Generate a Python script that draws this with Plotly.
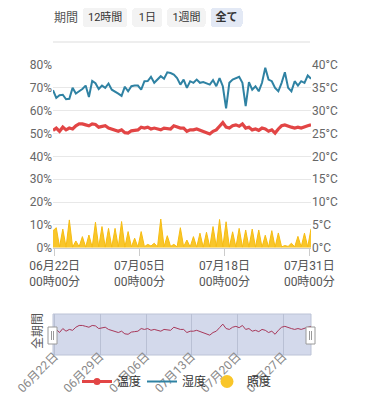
import plotly.graph_objects as go
import pandas as pd

# ---- data (12-hour samples) ----
start_time = "2023-06-21 18:00"
n_points = 80

humidity = [69.0, 65.6, 66.8, 67.0, 65.0, 65.2, 70.0, 67.5, 68.5, 69.5,
            71.0, 66.0, 73.0, 72.0, 69.5, 71.0, 70.0, 71.9, 69.2, 68.5,
            67.5, 66.5, 70.5, 68.5, 70.7, 71.0, 71.0, 69.2, 72.9, 73.0,
            74.8, 72.2, 73.6, 75.1, 74.0, 76.8, 76.5, 75.8, 74.3, 71.4,
            73.6, 70.0, 72.9, 72.2, 73.6, 72.2, 72.5, 72.0, 71.4, 73.4,
            70.7, 74.3, 70.7, 61.0, 72.2, 73.6, 74.3, 74.8, 72.2, 62.0,
            72.5, 69.2, 70.7, 68.5, 72.2, 78.8, 73.6, 72.9, 70.0, 68.5,
            72.2, 76.8, 70.0, 68.5, 72.9, 71.0, 72.9, 72.2, 75.4, 74.0]

temperature = [25.7, 26.2, 25.5, 26.4, 25.8, 26.2, 26.0, 26.7, 27.1, 27.1,
               26.9, 26.7, 27.1, 27.0, 26.4, 26.6, 26.7, 26.2, 26.0, 25.8,
               25.5, 25.8, 25.2, 25.1, 25.6, 25.7, 25.8, 26.4, 26.2, 26.4,
               26.0, 26.2, 26.0, 25.8, 26.2, 26.1, 26.0, 26.7, 26.4, 26.2,
               26.2, 25.5, 25.8, 25.8, 26.0, 25.7, 25.5, 25.1, 24.9, 25.5,
               25.8, 26.6, 27.4, 26.4, 26.2, 26.7, 26.9, 26.6, 27.1, 26.2,
               26.4, 25.8, 26.0, 25.7, 26.2, 26.0, 25.5, 25.8, 25.1, 26.0,
               26.7, 26.9, 26.6, 26.4, 26.2, 26.4, 26.2, 26.5, 26.7, 26.9]

illuminance = [7.5, 8.8, 0.4, 8.2, 0.3, 12.2, 0.3, 3.0, 0.5, 4.9,
               0.3, 5.6, 0.3, 11.2, 0.4, 9.3, 0.3, 8.5, 0.3, 8.5,
               0.4, 11.5, 0.3, 7.1, 0.4, 4.2, 0.3, 7.1, 0.5, 1.5,
               0.8, 2.0, 0.4, 12.6, 0.5, 5.3, 0.6, 1.5, 0.4, 8.8,
               0.5, 3.4, 0.4, 4.9, 0.3, 6.4, 0.3, 6.8, 0.4, 9.3,
               0.5, 12.4, 0.4, 11.4, 0.3, 7.0, 0.3, 8.5, 0.3, 7.8,
               0.3, 8.2, 0.3, 7.8, 0.3, 5.5, 0.3, 7.5, 0.3, 6.5,
               0.4, 1.0, 0.6, 2.0, 0.4, 5.0, 0.4, 6.4, 0.4, 8.3]

main_ticks = ["2023-06-22", "2023-07-05", "2023-07-18", "2023-07-31"]
main_tick_text = ["06月22日<br>00時00分", "07月05日<br>00時00分",
                  "07月18日<br>00時00分", "07月31日<br>00時00分"]
slider_tick0 = "2023-06-22"

series_names = ["温度", "湿度", "照度"]
period_label = "期間"
slider_label = "全期間"

times = pd.date_range(start_time, periods=n_points, freq="12h")

# ---- styling ----
FONT = "Roboto, 'Noto Sans CJK JP', sans-serif"
RED = "#e24545"
BLUE = "#2f82a3"
YELLOW = "#f9c62a"
OFF = 8  # page body margin
W, H = 368 - OFF, 400 - OFF


def px_x(v):
    return (v - OFF) / W


def px_y(v):
    return 1 - (v - OFF) / H


fig = go.Figure()

fig.add_trace(go.Scatter(x=times, y=illuminance, name=series_names[2], yaxis="y3",
                         mode="lines", line=dict(color="#f6bc12", width=1),
                         fill="tozeroy", fillcolor=YELLOW, showlegend=False))
fig.add_trace(go.Scatter(x=times, y=temperature, name=series_names[0], yaxis="y2",
                         mode="lines", line=dict(color=RED, width=3.2), showlegend=False))
fig.add_trace(go.Scatter(x=times, y=humidity, name=series_names[1], yaxis="y",
                         mode="lines", line=dict(color=BLUE, width=2), showlegend=False))

# slider preview (temperature)
fig.add_trace(go.Scatter(x=times, y=temperature, xaxis="x2", yaxis="y4", mode="lines",
                         line=dict(color="#a8385a", width=1), showlegend=False,
                         hoverinfo="skip"))

# legend entries
fig.add_trace(go.Scatter(x=[None], y=[None], name=series_names[0], mode="lines+markers",
                         line=dict(color=RED, width=3),
                         marker=dict(color=RED, size=7, symbol="circle")))
fig.add_trace(go.Scatter(x=[None], y=[None], name=series_names[1], mode="lines",
                         line=dict(color=BLUE, width=2)))
fig.add_trace(go.Scatter(x=[None], y=[None], name=series_names[2], mode="markers",
                         marker=dict(color=YELLOW, size=13, symbol="circle")))

dom_x = [px_x(53), px_x(311)]

fig.update_layout(
    width=W, height=H,
    margin=dict(l=0, r=0, t=0, b=0, autoexpand=False),
    paper_bgcolor="white", plot_bgcolor="white",
    font=dict(family=FONT, size=12, color="#555"),
    xaxis=dict(
        domain=dom_x, anchor="y", autorange=True, automargin=False,
        tickvals=main_ticks, ticktext=main_tick_text,
        ticks="outside", ticklen=7, tickcolor="#ccc",
        showline=True, linecolor="#ccc", showgrid=False, zeroline=False,
        tickfont=dict(size=12, color="#555"),
        rangeselector=dict(
            x=px_x(83), xanchor="left", y=px_y(8), yanchor="top",
            bgcolor="#f3f3f3", activecolor="#e3e9f5",
            font=dict(size=11, color="#333", family=FONT),
            buttons=[
                dict(count=12, label="12時間", step="hour", stepmode="backward"),
                dict(count=1, label="1日", step="day", stepmode="backward"),
                dict(count=7, label="1週間", step="day", stepmode="backward"),
                dict(step="all", label="<b>全て</b>"),
            ],
        ),
    ),
    yaxis=dict(
        domain=[px_y(247.8), px_y(65)], range=[0, 80], dtick=10, ticksuffix="%",
        gridcolor="#e8e8e8", zeroline=False, showline=False, automargin=False,
        tickfont=dict(size=12, color="#666"),
    ),
    yaxis2=dict(
        overlaying="y", side="right", anchor="x", range=[0, 40], dtick=5,
        ticksuffix="°C", showgrid=False, zeroline=False, showline=False,
        automargin=False, tickfont=dict(size=12, color="#666"),
    ),
    yaxis3=dict(overlaying="y", range=[0, 80], visible=False, automargin=False),
    xaxis2=dict(
        domain=dom_x, anchor="free", position=px_y(346), range=[times[0], times[-1]],
        automargin=False,
        tick0=slider_tick0, dtick=7 * 24 * 3600 * 1000, tickformat="%m月%d日",
        tickangle=-45, showgrid=True, gridcolor="#b9c0d4", zeroline=False,
        showline=False, ticks="", tickfont=dict(size=12, color="#888"),
    ),
    yaxis4=dict(domain=[px_y(355), px_y(314)], range=[20.4, 29.7], visible=False,
                automargin=False),
    legend=dict(
        orientation="h", x=px_x(77), xanchor="left", y=px_y(367), yanchor="top",
        font=dict(size=12, color="#333"), bgcolor="rgba(0,0,0,0)",
        entrywidth=20, itemwidth=30,
    ),
    showlegend=True,
)

shapes = [
    # top separator
    dict(type="line", xref="paper", yref="paper", x0=px_x(53), x1=px_x(310),
         y0=px_y(42), y1=px_y(42), line=dict(color="#dddddd", width=1)),
    # slider background
    dict(type="rect", xref="x2 domain", yref="y4 domain", x0=0, x1=1, y0=0, y1=1,
         fillcolor="#d3d9eb", line=dict(color="#bcc3d6", width=1), layer="below"),
]
for hx in (48, 306):
    shapes.append(dict(type="rect", xref="paper", yref="paper",
                       x0=px_x(hx), x1=px_x(hx + 9), y0=px_y(344), y1=px_y(327),
                       fillcolor="white", line=dict(color="#9a9a9a", width=1)))
    for off in (3.5, 5.5):
        shapes.append(dict(type="line", xref="paper", yref="paper",
                           x0=px_x(hx + off), x1=px_x(hx + off),
                           y0=px_y(340), y1=px_y(331),
                           line=dict(color="#9a9a9a", width=1)))
fig.update_layout(shapes=shapes)

fig.add_annotation(x=px_x(66), y=px_y(18), xref="paper", yref="paper",
                   xanchor="center", yanchor="middle",
                   text=period_label, showarrow=False,
                   font=dict(size=12, color="#555"))
fig.add_annotation(x=px_x(38), y=px_y(331), xref="paper", yref="paper",
                   xanchor="center", yanchor="middle",
                   text=slider_label, showarrow=False, textangle=-90,
                   font=dict(size=12, color="#555"))

fig.write_html("out.html")
